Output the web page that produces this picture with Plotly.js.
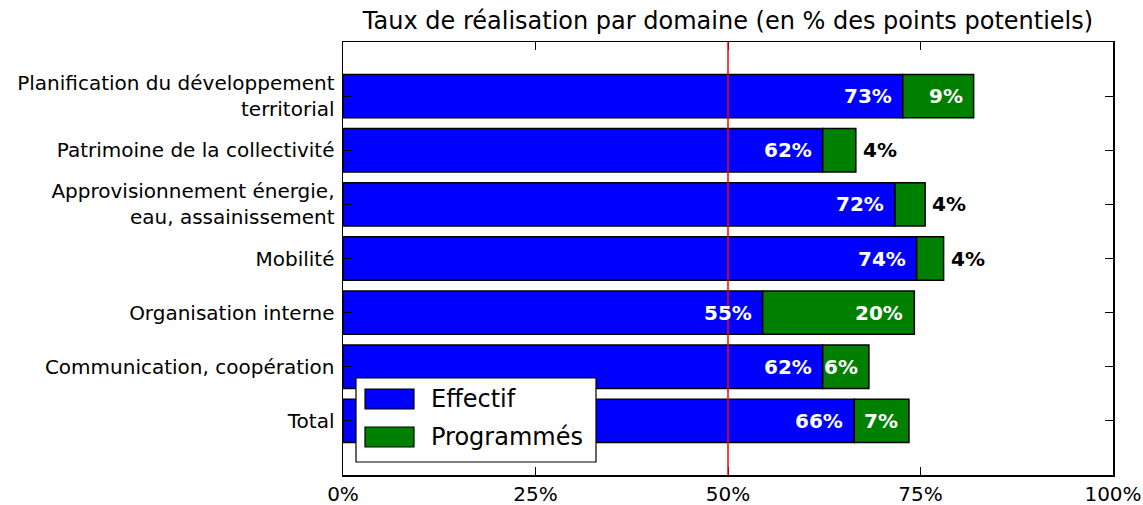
<!DOCTYPE html>
<html>
<head>
<meta charset="utf-8">
<script src="https://cdn.plot.ly/plotly-3.0.1.min.js"></script>
<style>html,body{margin:0;padding:0;background:#fff;}#chart{width:1143px;height:505px;}</style>
</head>
<body>
<div id="chart"></div>
<script>
const categories = [
  "Planification du développement<br>territorial",
  "Patrimoine de la collectivité",
  "Approvisionnement énergie,<br>eau, assainissement",
  "Mobilité",
  "Organisation interne",
  "Communication, coopération",
  "Total"
];
const effectif = [72.7, 62.3, 71.7, 74.5, 54.5, 62.3, 66.4];
const programmes = [9.2, 4.3, 3.9, 3.5, 19.7, 6.0, 7.1];
const effectifLabels = ["73%", "62%", "72%", "74%", "55%", "62%", "66%"];
const programmesLabels = ["9%", "4%", "4%", "4%", "20%", "6%", "7%"];
const seriesNames = ["Effectif", "Programmés"];
const xTickVals = [0, 25, 50, 75, 100];
const xTickText = ["0%", "25%", "50%", "75%", "100%"];
const refLine = 50;
const titleText = "Taux de réalisation par domaine (en % des points potentiels)";

const FONT = "DejaVu Sans, sans-serif";
const BLUE = "#0000ff", GREEN = "#008000";

const traces = [
  {type: "bar", orientation: "h", name: seriesNames[0], y: categories, x: effectif,
   marker: {color: BLUE, line: {color: "#000", width: 1.5}}, width: 0.8, showlegend: false, hoverinfo: "x"},
  {type: "bar", orientation: "h", name: seriesNames[1], y: categories, x: programmes, base: effectif,
   marker: {color: GREEN, line: {color: "#000", width: 1.5}}, width: 0.8, showlegend: false, hoverinfo: "x"}
];

const annotations = [];
categories.forEach((c, i) => {
  annotations.push({x: effectif[i], y: c, xref: "x", yref: "y", text: effectifLabels[i], showarrow: false,
    xanchor: "right", xshift: -9, font: {family: FONT, size: 20, color: "#fff", weight: "bold"}});
  const end = effectif[i] + programmes[i];
  const inside = programmes[i] >= 5;
  annotations.push({x: end, y: c, xref: "x", yref: "y", text: programmesLabels[i], showarrow: false,
    xanchor: inside ? "right" : "left", xshift: inside ? -9 : 5,
    font: {family: FONT, size: 20, color: inside ? "#fff" : "#000", weight: "bold"}});
});

// custom legend (matplotlib style)
const px2x = p => (p - 343) / 770;
const py2y = p => (475 - p) / 433;
const shapes = [
  {type: "line", xref: "x", yref: "paper", x0: refLine, x1: refLine, y0: 0, y1: 1, line: {color: "#ff0000", width: 1.5}, layer: "above"},
  {type: "rect", xref: "paper", yref: "paper", x0: px2x(356), x1: px2x(596), y0: py2y(462), y1: py2y(378),
   fillcolor: "#fff", line: {color: "#000", width: 1.2}, layer: "above"},
  {type: "rect", xref: "paper", yref: "paper", x0: px2x(365), x1: px2x(414), y0: py2y(409), y1: py2y(389),
   fillcolor: BLUE, line: {color: "#000", width: 1.2}, layer: "above"},
  {type: "rect", xref: "paper", yref: "paper", x0: px2x(365), x1: px2x(414), y0: py2y(447), y1: py2y(427),
   fillcolor: GREEN, line: {color: "#000", width: 1.2}, layer: "above"}
];
annotations.push({xref: "paper", yref: "paper", x: px2x(429), y: py2y(399), text: seriesNames[0], showarrow: false,
  xanchor: "left", yanchor: "middle", font: {family: FONT, size: 24, color: "#000"}});
annotations.push({xref: "paper", yref: "paper", x: px2x(429), y: py2y(437), text: seriesNames[1], showarrow: false,
  xanchor: "left", yanchor: "middle", font: {family: FONT, size: 24, color: "#000"}});

const layout = {
  width: 1143, height: 505,
  margin: {l: 343, r: 30, t: 42, b: 30, pad: 0},
  paper_bgcolor: "#fff", plot_bgcolor: "#fff",
  barmode: "overlay",
  font: {family: FONT, size: 20, color: "#000"},
  title: {text: titleText, font: {family: FONT, size: 24, color: "#000"}, x: 0.5, xref: "paper", xanchor: "center", y: 0.96, yanchor: "middle"},
  xaxis: {range: [0, 100], tickvals: xTickVals, ticktext: xTickText, ticks: "inside", ticklen: 8, tickwidth: 1,
    tickcolor: "#000", showline: true, linecolor: "#000", linewidth: 1.5, mirror: "ticks", showgrid: false, zeroline: false,
    tickfont: {family: FONT, size: 20, color: "#000"}},
  yaxis: {type: "category", categoryorder: "array", categoryarray: categories, range: [7, -1], ticks: "inside", ticklen: 8, tickwidth: 1,
    tickcolor: "#000", showline: true, linecolor: "#000", linewidth: 1.5, mirror: "ticks", showgrid: false, zeroline: false,
    tickfont: {family: FONT, size: 20, color: "#000"}, ticklabelstandoff: 3},
  shapes: shapes,
  annotations: annotations,
  showlegend: false
};

Plotly.newPlot("chart", traces, layout, {staticPlot: true, displayModeBar: false});
</script>
</body>
</html>
